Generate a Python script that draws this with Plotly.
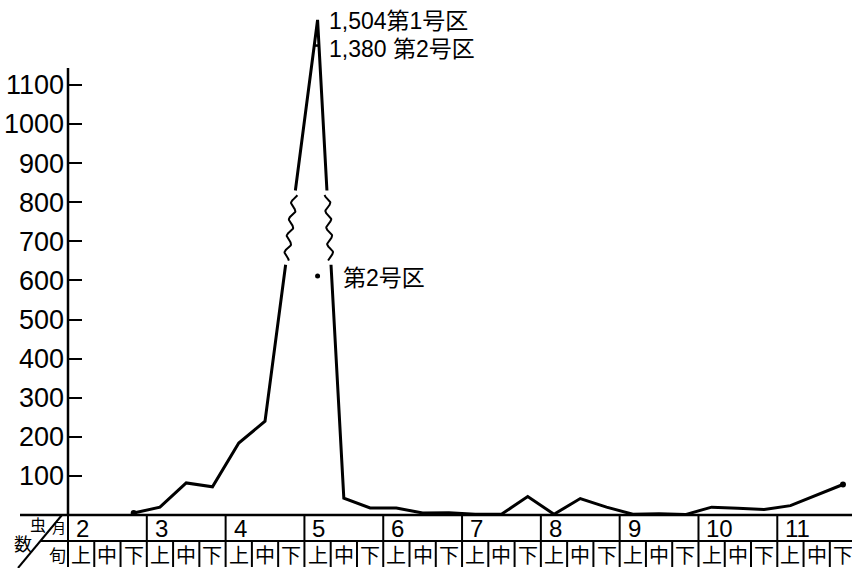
import math
import plotly.graph_objects as go

# ---- data -----------------------------------------------------------------
months = ["2", "3", "4", "5", "6", "7", "8", "9", "10", "11"]
thirds = ["上", "中", "下"]

# insect counts per ten-day period, plot No.1 (Feb 上 ... Nov 下)
counts_plot1 = [None, None, 5,
                20, 82, 72,
                184, 240, 750,
                1504, 43, 18,
                18, 5, 6,
                2, 2, 47,
                2, 42, 20,
                2, 3, 1,
                20, 17, 14,
                24, 50, 78]

peak_plot2 = 1380          # plot No.2 at May 上
point_plot2 = 611          # plot No.2 second reading at May 上
peak_index = 9             # May 上

y_ticks = [100, 200, 300, 400, 500, 600, 700, 800, 900, 1000, 1100]

# ---- geometry ---------------------------------------------------------------
W, H = 852, 568
ML, MB = 68, 53
PLOT_W, PLOT_H = W - ML, H - MB
CELL_PX = 26.27
X_MAX = PLOT_W / CELL_PX
PX_PER_Y = 0.391
Y_MAX = PLOT_H / PX_PER_Y
AXIS_TOP = 1143
BAND_LO, BAND_HI = 640, 830      # broken section of the curve
FONT = "Liberation Sans, Arial, Noto Sans CJK JP"
CJK = "Noto Sans CJK JP, Noto Sans CJK SC"


def shown(v):
    """Values above 1000 are drawn on a compressed scale (broken axis)."""
    if v is None:
        return None
    return v if v <= 1000 else 1000 + (v - 1000) * 0.528


xs = [i + 0.5 for i, v in enumerate(counts_plot1) if v is not None]
ys = [shown(v) for v in counts_plot1 if v is not None]


def split_band(xs, ys, lo, hi):
    px, py, gaps = [], [], []
    entry, prev = None, None
    for x, y in zip(xs, ys):
        if prev is not None:
            x0, y0 = prev
            cuts = []
            for lvl in (lo, hi):
                if (y0 - lvl) * (y - lvl) < 0:
                    t = (lvl - y0) / (y - y0)
                    cuts.append((t, x0 + t * (x - x0), lvl))
            cuts.sort()
            for _, cx, cy in cuts:
                if entry is None:
                    px += [cx, None]
                    py += [cy, None]
                    entry = (cx, cy)
                else:
                    gaps.append((entry, (cx, cy)))
                    entry = None
                    px.append(cx)
                    py.append(cy)
        if not (lo < y < hi):
            px.append(x)
            py.append(y)
        prev = (x, y)
    return px, py, gaps


def wavy(p0, p1, cycles=4.5, amp=2.7, n=90):
    x0, y0 = p0[0] * CELL_PX, -p0[1] * PX_PER_Y
    x1, y1 = p1[0] * CELL_PX, -p1[1] * PX_PER_Y
    dx, dy = x1 - x0, y1 - y0
    L = math.hypot(dx, dy)
    nx, ny = -dy / L, dx / L
    wx, wy = [], []
    for k in range(n + 1):
        t = 0.06 + 0.88 * k / n
        off = amp * math.sin(2 * math.pi * cycles * t)
        X = x0 + dx * t + nx * off
        Y = y0 + dy * t + ny * off
        wx.append(X / CELL_PX)
        wy.append(-Y / PX_PER_Y)
    return wx, wy


def crossings(xs, ys, lvl):
    out = []
    for (x0, y0), (x1, y1) in zip(zip(xs, ys), zip(xs[1:], ys[1:])):
        if (y0 - lvl) * (y1 - lvl) < 0:
            t = (lvl - y0) / (y1 - y0)
            out.append(x0 + t * (x1 - x0))
    return out


line_x, line_y, gaps = split_band(xs, ys, BAND_LO, BAND_HI)

fig = go.Figure()
fig.add_trace(go.Scatter(x=line_x, y=line_y, mode="lines",
                         line=dict(color="black", width=3),
                         connectgaps=False, hoverinfo="skip"))
for a, b in gaps:
    wx, wy = wavy(a, b)
    fig.add_trace(go.Scatter(x=wx, y=wy, mode="lines",
                             line=dict(color="black", width=2),
                             hoverinfo="skip"))

# plot No.2 peak level drawn across the peak
bar_x = crossings(xs, ys, shown(peak_plot2))
fig.add_trace(go.Scatter(x=bar_x, y=[shown(peak_plot2)] * len(bar_x),
                         mode="lines", line=dict(color="black", width=2.5),
                         hoverinfo="skip"))

# end points of the curve and plot No.2 reading
fig.add_trace(go.Scatter(x=[xs[0], xs[-1]], y=[ys[0], ys[-1]], mode="markers",
                         marker=dict(color="black", size=6), hoverinfo="skip"))
fig.add_trace(go.Scatter(x=[peak_index + 0.5], y=[point_plot2], mode="markers",
                         marker=dict(color="black", size=5), hoverinfo="skip"))

ann = []
ann.append(dict(x=peak_index + 0.5, y=shown(1504), xref="x", yref="y",
                text=f"{1504:,}第1号区", showarrow=False, xanchor="left",
                yanchor="middle", xshift=9, yshift=-1,
                font=dict(family=FONT, size=23, color="black")))
ann.append(dict(x=peak_index + 0.5, y=shown(peak_plot2), xref="x", yref="y",
                text=f"{peak_plot2:,} 第2号区", showarrow=False, xanchor="left",
                yanchor="middle", xshift=9, yshift=-3,
                font=dict(family=FONT, size=23, color="black")))
ann.append(dict(x=peak_index + 0.5, y=point_plot2, xref="x", yref="y",
                text="第2号区", showarrow=False, xanchor="left",
                yanchor="middle", xshift=23, yshift=-2,
                font=dict(family=FONT, size=23, color="black")))

# ---- table under the chart -------------------------------------------------
def px2paper_x(px):
    return (px - ML) / PLOT_W


def px2paper_y(py):
    return (PLOT_H - py) / PLOT_H


ROW1, ROW2 = 541, 567
shapes = []
blk = dict(color="black", width=2)
# y axis line
shapes.append(dict(type="line", xref="paper", yref="y", x0=0, x1=0, y0=0, y1=AXIS_TOP,
                   line=dict(color="black", width=2.5)))
# baseline
shapes.append(dict(type="line", xref="paper", yref="paper", x0=px2paper_x(20), x1=1,
                   y0=0, y1=0, line=dict(color="black", width=2.5)))
# row separator
shapes.append(dict(type="line", xref="paper", yref="paper", x0=px2paper_x(40), x1=1,
                   y0=px2paper_y(ROW1), y1=px2paper_y(ROW1), line=blk))
# header diagonal
shapes.append(dict(type="line", xref="paper", yref="paper",
                   x0=px2paper_x(18), y0=px2paper_y(568),
                   x1=px2paper_x(62), y1=px2paper_y(515), line=blk))
n_cells = len(months) * len(thirds)
for k in range(n_cells + 1):
    xp = k / X_MAX
    if xp > 1.001:
        continue
    top = 515 if k % 3 == 0 else ROW1
    shapes.append(dict(type="line", xref="paper", yref="paper", x0=xp, x1=xp,
                       y0=px2paper_y(top), y1=px2paper_y(ROW2), line=blk))

for m, name in enumerate(months):
    ann.append(dict(x=3 * m / X_MAX, y=px2paper_y(528), xref="paper", yref="paper",
                    text=name, showarrow=False, xanchor="left", yanchor="middle",
                    xshift=6, font=dict(family=FONT, size=24, color="black")))
    for j, t in enumerate(thirds):
        ann.append(dict(x=(3 * m + j + 0.5) / X_MAX, y=px2paper_y(554),
                        xref="paper", yref="paper", text=t, showarrow=False,
                        xanchor="center", yanchor="middle",
                        font=dict(family=CJK, size=20, color="black")))

for txt, px, py, sz in [("虫", 38, 524, 16), ("月", 59, 527, 14),
                        ("数", 23, 543, 18), ("旬", 57, 554, 17)]:
    ann.append(dict(x=px2paper_x(px), y=px2paper_y(py), xref="paper", yref="paper",
                    text=txt, showarrow=False, xanchor="center", yanchor="middle",
                    font=dict(family=CJK, size=sz, color="black")))

fig.update_layout(
    width=W, height=H,
    margin=dict(l=ML, r=0, t=0, b=MB),
    paper_bgcolor="white", plot_bgcolor="white",
    showlegend=False,
    xaxis=dict(range=[0, X_MAX], showgrid=False, zeroline=False,
               showticklabels=False, ticks="", showline=False),
    yaxis=dict(range=[0, Y_MAX], showgrid=False, zeroline=False, showline=False,
               tickvals=y_ticks, ticktext=[str(v) for v in y_ticks],
               ticks="inside", ticklen=14, tickwidth=2, tickcolor="black",
               ticklabelstandoff=3,
               tickfont=dict(family=FONT, size=27, color="black")),
    shapes=shapes, annotations=ann,
)

fig.write_html("out.html")
